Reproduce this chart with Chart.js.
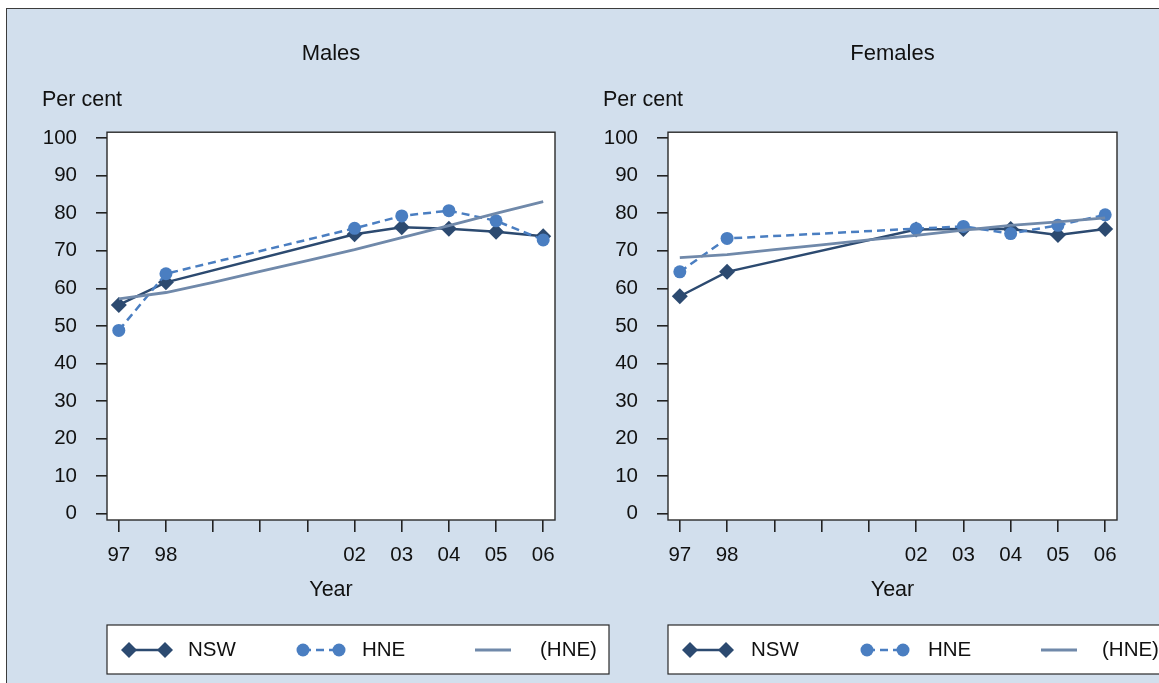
<!DOCTYPE html>
<html>
<head>
<meta charset="utf-8">
<script src="https://cdn.jsdelivr.net/npm/chart.js@4.4.1/dist/chart.umd.min.js"></script>
<style>
  body { margin: 0; background: #fff; width: 1159px; height: 683px; overflow: hidden; position: relative; }
  #frame { position: absolute; left: 6px; top: 8px; width: 1200px; height: 700px;
           background: #d2dfed; border-left: 1px solid #3c3c3c; border-top: 1px solid #3c3c3c; }
  canvas { position: absolute; top: 9px; }
  #males { left: 8px; }
  #females { left: 569px; }
</style>
</head>
<body>
<div id="frame"></div>
<canvas id="males" width="605" height="674"></canvas>
<canvas id="females" width="590" height="674"></canvas>
<script>
const years = [1997, 1998, 1999, 2000, 2001, 2002, 2003, 2004, 2005, 2006];
const yearLabels = ['97', '98', '', '', '', '02', '03', '04', '05', '06'];
const yTickValues = [0, 10, 20, 30, 40, 50, 60, 70, 80, 90, 100];
const seriesNames = ['NSW', 'HNE', '(HNE)'];

const malesNSW = [55.6, 61.6, null, null, null, 74.4, 76.3, 75.9, 75.1, 73.9];
const malesHNE = [48.8, 63.9, null, null, null, 76.0, 79.3, 80.7, 78.0, 72.9];
const malesTrend = [57.2, 58.9, 61.6, 64.5, 67.4, 70.3, 73.5, 76.7, 80.0, 83.1];

const femalesNSW = [57.9, 64.4, null, null, null, 75.7, 75.8, 75.8, 74.2, 75.8];
const femalesHNE = [64.4, 73.3, null, null, null, 75.9, 76.5, 74.6, 76.8, 79.6];
const femalesTrend = [68.2, 69.0, 70.3, 71.6, 72.9, 74.1, 75.5, 76.8, 77.7, 78.8];

const FONT = '"Liberation Sans", Arial, Helvetica, sans-serif';
const NSW_COLOR = '#2c4a70';
const HNE_COLOR = '#4a7ec1';
const TREND_COLOR = '#7089aa';

function points(values) {
  return years.map((yr, i) => ({ x: yr, y: values[i] }));
}

// white plot region with a dark frame
const plotBox = {
  id: 'plotBox',
  beforeDraw(chart) {
    const { ctx, chartArea: a } = chart;
    ctx.save();
    ctx.fillStyle = '#fff';
    ctx.fillRect(a.left, a.top, a.right - a.left, a.bottom - a.top);
    ctx.restore();
  },
  beforeDatasetsDraw(chart) {
    const { ctx, chartArea: a } = chart;
    ctx.save();
    ctx.strokeStyle = '#2a2a2a';
    ctx.lineWidth = 1.4;
    ctx.strokeRect(a.left, a.top, a.right - a.left, a.bottom - a.top);
    ctx.restore();
  }
};

function drawMarker(ctx, style, x, y, r) {
  ctx.beginPath();
  if (style === 'rectRot') {
    ctx.moveTo(x - r, y); ctx.lineTo(x, y - r); ctx.lineTo(x + r, y); ctx.lineTo(x, y + r);
    ctx.closePath();
  } else {
    ctx.arc(x, y, r, 0, Math.PI * 2);
  }
  ctx.fill();
}

// boxed legend under each panel, drawn from the dataset styles
const boxLegend = {
  id: 'boxLegend',
  afterDraw(chart, args, opts) {
    const { ctx, chartArea: a } = chart;
    const left = a.left, top = opts.top, h = 49;
    ctx.save();
    ctx.fillStyle = '#fff';
    ctx.fillRect(left, top, opts.width, h);
    ctx.strokeStyle = '#2a2a2a';
    ctx.lineWidth = 1.2;
    ctx.strokeRect(left, top, opts.width, h);
    const cy = top + 25;
    chart.data.datasets.forEach((ds, i) => {
      const x0 = left + opts.cols[i] + 22;
      const x1 = x0 + 36;
      ctx.strokeStyle = ds.borderColor;
      ctx.lineWidth = ds.borderWidth;
      ctx.setLineDash(ds.borderDash || []);
      ctx.beginPath();
      ctx.moveTo(x0, cy); ctx.lineTo(x1, cy);
      ctx.stroke();
      ctx.setLineDash([]);
      if (ds.pointRadius > 0) {
        ctx.fillStyle = ds.pointBackgroundColor;
        drawMarker(ctx, ds.pointStyle, x0, cy, ds.pointRadius);
        drawMarker(ctx, ds.pointStyle, x1, cy, ds.pointRadius);
      }
      ctx.fillStyle = '#111';
      ctx.font = '20.5px ' + FONT;
      ctx.textBaseline = 'middle';
      ctx.textAlign = 'left';
      ctx.fillText(ds.label, x0 + opts.textGap[i], cy);
    });
    ctx.restore();
  }
};

function makeChart(id, title, nsw, hne, trend, padRight, cols, textGap) {
  const ctx = document.getElementById(id).getContext('2d');
  return new Chart(ctx, {
    type: 'line',
    data: {
      datasets: [
        {
          label: seriesNames[0], data: points(nsw), order: 2,
          borderColor: NSW_COLOR, backgroundColor: NSW_COLOR,
          pointBackgroundColor: NSW_COLOR, pointBorderColor: NSW_COLOR,
          borderWidth: 2.5, pointStyle: 'rectRot', pointRadius: 8, pointBorderWidth: 0,
          spanGaps: true, tension: 0
        },
        {
          label: seriesNames[1], data: points(hne), order: 1,
          borderColor: HNE_COLOR, backgroundColor: HNE_COLOR,
          pointBackgroundColor: HNE_COLOR, pointBorderColor: HNE_COLOR,
          borderWidth: 2.5, borderDash: [8, 5], pointStyle: 'circle', pointRadius: 6.5, pointBorderWidth: 0,
          spanGaps: true, tension: 0
        },
        {
          label: seriesNames[2], data: points(trend), order: 0,
          borderColor: TREND_COLOR, backgroundColor: TREND_COLOR,
          borderWidth: 2.8, pointRadius: 0, spanGaps: true, tension: 0
        }
      ]
    },
    options: {
      responsive: false,
      animation: false,
      events: [],
      layout: { padding: { left: 34, right: padRight, top: 0, bottom: 68 } },
      scales: {
        x: {
          type: 'linear',
          min: 1996.75,
          max: 2006.25,
          afterBuildTicks: scale => { scale.ticks = years.map(v => ({ value: v })); },
          afterFit: scale => { scale.height = 95; },
          ticks: {
            autoSkip: false, maxRotation: 0, padding: 11, color: '#111',
            font: { family: FONT, size: 20.5 },
            callback: value => yearLabels[years.indexOf(value)]
          },
          grid: { drawOnChartArea: false, drawTicks: true, tickLength: 12, color: '#222', lineWidth: 1.6 },
          border: { display: false },
          title: {
            display: true, text: 'Year', color: '#111',
            font: { family: FONT, size: 21.5 }, padding: { top: 0, bottom: 12 }
          }
        },
        y: {
          min: -1.7,
          max: 101.6,
          afterBuildTicks: scale => { scale.ticks = yTickValues.map(v => ({ value: v })); },
          afterFit: scale => { scale.width = 65; },
          ticks: { padding: 19, color: '#111', font: { family: FONT, size: 20.5 } },
          grid: { drawOnChartArea: false, drawTicks: true, tickLength: 11, color: '#222', lineWidth: 1.6 },
          border: { display: false }
        }
      },
      plugins: {
        legend: { display: false },
        tooltip: { enabled: false },
        title: {
          display: true, text: title, fullSize: false, color: '#111',
          font: { family: FONT, size: 22, weight: 'normal' },
          padding: { top: 32, bottom: 20 }
        },
        subtitle: {
          display: true, text: 'Per cent', align: 'start', color: '#111',
          font: { family: FONT, size: 21.5, weight: 'normal' },
          padding: { top: 0, bottom: 19 }
        },
        boxLegend: { top: 616, width: 502, cols: cols, textGap: textGap }
      }
    },
    plugins: [plotBox, boxLegend]
  });
}

makeChart('males', 'Males', malesNSW, malesHNE, malesTrend, 58, [0, 174, 346], [59, 59, 65]);
makeChart('females', 'Females', femalesNSW, femalesHNE, femalesTrend, 42, [0, 177, 351], [61, 61, 61]);
</script>
</body>
</html>
